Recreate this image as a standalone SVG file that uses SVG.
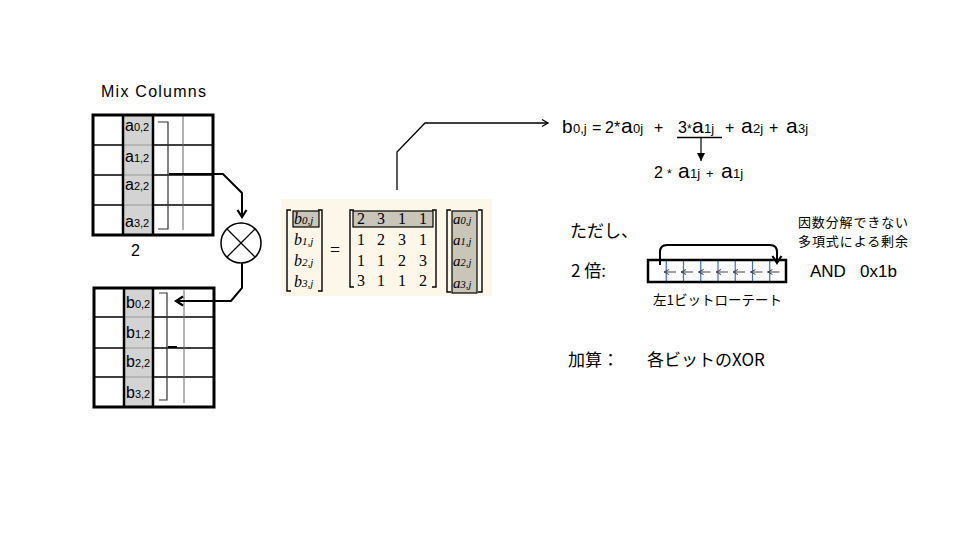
<svg xmlns="http://www.w3.org/2000/svg" width="960" height="540" viewBox="0 0 960 540">
<style>
 .s{font-family:"Liberation Sans",Arial,sans-serif;fill:#000}
 .jp{font-family:"Noto Sans CJK JP",sans-serif;fill:#000}
 .m{font-family:"Liberation Serif",serif;font-style:italic;fill:#000}
 .n{font-family:"Liberation Serif",serif;font-size:16px;fill:#000;text-anchor:middle}
 .outer{stroke:#000;stroke-width:3;fill:none}
 .row{stroke:#000;stroke-width:1.5}
 .rowg{stroke:#999;stroke-width:1}
 .col{stroke:#000;stroke-width:2.5}
 .gl{stroke:#666;stroke-width:1}
 .br{stroke:#333;stroke-width:1.2;fill:none}
 .mb{stroke:#000;stroke-width:1.4;fill:none}
 .hb{fill:#c9c5b9;stroke:#000;stroke-width:1.2}
 .conn{stroke:#000;stroke-width:2;fill:none}
 .blue{stroke:#3b6fd6;stroke-width:1.2}
 .sa{stroke:#444;stroke-width:1;fill:none}
</style>
<defs>
 <marker id="chev" markerWidth="12" markerHeight="12" refX="9" refY="6" orient="auto" markerUnits="userSpaceOnUse">
  <path d="M2,1.5 L9,6 L2,10.5" fill="none" stroke="#000" stroke-width="2.2"/>
 </marker>
 <marker id="chevs" markerWidth="10" markerHeight="10" refX="8" refY="5" orient="auto" markerUnits="userSpaceOnUse">
  <path d="M2,1.5 L8,5 L2,8.5" fill="none" stroke="#000" stroke-width="1.3"/>
 </marker>
 <marker id="tri" markerWidth="10" markerHeight="10" refX="8" refY="5" orient="auto" markerUnits="userSpaceOnUse">
  <path d="M0,1 L8,5 L0,9 Z" fill="#000"/>
 </marker>
 <marker id="tiny" markerWidth="8" markerHeight="8" refX="6" refY="4" orient="auto" markerUnits="userSpaceOnUse">
  <path d="M1,1.5 L6,4 L1,6.5" fill="none" stroke="#444" stroke-width="1"/>
 </marker>
</defs>
<rect width="960" height="540" fill="#fff"/>

<text class="s" x="101" y="97" font-size="16" textLength="105" lengthAdjust="spacing">Mix Columns</text>

<g id="stateA">
 <rect x="123" y="115" width="30" height="120" fill="#d3d3d3"/>
 <line class="row" x1="93" y1="145" x2="123" y2="145"/>
 <line class="row" x1="93" y1="175" x2="123" y2="175"/>
 <line class="row" x1="93" y1="205" x2="123" y2="205"/>
 <line class="row" x1="153" y1="145" x2="213" y2="145"/>
 <line class="row" x1="153" y1="175" x2="213" y2="175"/>
 <line class="row" x1="153" y1="205" x2="213" y2="205"/>
 <line class="rowg" x1="123" y1="145" x2="153" y2="145"/>
 <line class="rowg" x1="123" y1="175" x2="153" y2="175"/>
 <line class="rowg" x1="123" y1="205" x2="153" y2="205"/>
 <line class="col" x1="123" y1="115" x2="123" y2="235"/>
 <line class="col" x1="153" y1="115" x2="153" y2="235"/>
 <line class="gl" x1="183" y1="115" x2="183" y2="230"/>
 <rect class="outer" x="93" y="115" width="120" height="120"/>
 <path class="br" d="M158,122 H168 V229 H158"/>
 <text class="s" x="125" y="131" font-size="16">a<tspan font-size="11">0,2</tspan></text>
 <text class="s" x="125" y="162" font-size="16">a<tspan font-size="11">1,2</tspan></text>
 <text class="s" x="125" y="190" font-size="16">a<tspan font-size="11">2,2</tspan></text>
 <text class="s" x="125" y="227" font-size="16">a<tspan font-size="11">3,2</tspan></text>
 <text class="s" x="131" y="256" font-size="16">2</text>
</g>

<g id="stateB">
 <rect x="124" y="288" width="29" height="119" fill="#d3d3d3"/>
 <line class="row" x1="94" y1="317" x2="124" y2="317"/>
 <line class="row" x1="94" y1="348" x2="124" y2="348"/>
 <line class="row" x1="94" y1="377" x2="124" y2="377"/>
 <line class="row" x1="153" y1="317" x2="214" y2="317"/>
 <line class="row" x1="153" y1="348" x2="214" y2="348"/>
 <line class="row" x1="153" y1="377" x2="214" y2="377"/>
 <line class="rowg" x1="124" y1="317" x2="153" y2="317"/>
 <line class="rowg" x1="124" y1="348" x2="153" y2="348"/>
 <line class="rowg" x1="124" y1="377" x2="153" y2="377"/>
 <line class="col" x1="124" y1="288" x2="124" y2="407"/>
 <line class="col" x1="153" y1="288" x2="153" y2="407"/>
 <line class="gl" x1="184" y1="290" x2="184" y2="403"/>
 <rect class="outer" x="94" y="288" width="120" height="119"/>
 <path class="br" d="M159,293 H167 V400 H159"/>
 <line x1="168" y1="347" x2="177" y2="347" stroke="#000" stroke-width="2"/>
 <text class="s" x="126" y="308" font-size="16">b<tspan font-size="11">0,2</tspan></text>
 <text class="s" x="126" y="338" font-size="16">b<tspan font-size="11">1,2</tspan></text>
 <text class="s" x="126" y="367" font-size="16">b<tspan font-size="11">2,2</tspan></text>
 <text class="s" x="126" y="398" font-size="16">b<tspan font-size="11">3,2</tspan></text>
</g>

<g id="multiply">
 <circle cx="241" cy="243" r="20" fill="#fff" stroke="#000" stroke-width="1.5"/>
 <line x1="227" y1="229" x2="255" y2="257" stroke="#000" stroke-width="1.3"/>
 <line x1="255" y1="229" x2="227" y2="257" stroke="#000" stroke-width="1.3"/>
</g>

<g id="matrix">
 <rect x="281" y="199" width="211" height="97" fill="#fdf7e9"/>
 <path class="mb" d="M291,210 H287 V291 H291"/>
 <path class="mb" d="M318,210 H322 V291 H318"/>
 <rect class="hb" x="293" y="211" width="26" height="16"/>
 <text class="m" x="294" y="224" font-size="16">b<tspan font-size="11">0,j</tspan></text>
 <text class="m" x="294" y="245" font-size="16">b<tspan font-size="11">1,j</tspan></text>
 <text class="m" x="294" y="266" font-size="16">b<tspan font-size="11">2,j</tspan></text>
 <text class="m" x="294" y="287" font-size="16">b<tspan font-size="11">3,j</tspan></text>
 <text x="335" y="256" font-family="Liberation Serif,serif" font-size="18" text-anchor="middle" fill="#000">=</text>
 <path class="mb" d="M354,210 H350 V287 H354"/>
 <path class="mb" d="M432,210 H436 V287 H432"/>
 <rect class="hb" x="353" y="211" width="80" height="16"/>
 <text class="n" x="361" y="224">2</text><text class="n" x="381" y="224">3</text><text class="n" x="402" y="224">1</text><text class="n" x="423" y="224">1</text>
 <text class="n" x="361" y="245">1</text><text class="n" x="381" y="245">2</text><text class="n" x="402" y="245">3</text><text class="n" x="423" y="245">1</text>
 <text class="n" x="361" y="266">1</text><text class="n" x="381" y="266">1</text><text class="n" x="402" y="266">2</text><text class="n" x="423" y="266">3</text>
 <text class="n" x="361" y="286">3</text><text class="n" x="381" y="286">1</text><text class="n" x="402" y="286">1</text><text class="n" x="423" y="286">2</text>
 <path class="mb" d="M451,210 H447 V292 H451"/>
 <path class="mb" d="M478,210 H482 V292 H478"/>
 <rect class="hb" x="452" y="211" width="25" height="82"/>
 <text class="m" x="453" y="224" font-size="15">a<tspan font-size="10.5">0,j</tspan></text>
 <text class="m" x="453" y="245" font-size="15">a<tspan font-size="10.5">1,j</tspan></text>
 <text class="m" x="453" y="266" font-size="15">a<tspan font-size="10.5">2,j</tspan></text>
 <text class="m" x="453" y="288" font-size="15">a<tspan font-size="10.5">3,j</tspan></text>
</g>

<g id="connectors">
 <path class="conn" d="M169,174 H223 L242,193 V217" marker-end="url(#chev)"/>
 <path class="conn" d="M242,263 V288 L231,301 H176" marker-end="url(#chev)"/>
 <path d="M397,190 V152 L425,123 H548" stroke="#000" stroke-width="1.3" fill="none" marker-end="url(#chevs)"/>
 <line x1="701" y1="137" x2="701" y2="161" stroke="#000" stroke-width="1.2" marker-end="url(#tri)"/>
</g>

<g id="equation">
 <text class="s" y="133" font-size="19"><tspan x="562">b</tspan><tspan x="573" font-size="13">0,j</tspan><tspan x="592" font-size="16">=</tspan><tspan x="605" font-size="16">2*</tspan><tspan x="621" font-size="21">a</tspan><tspan x="633" font-size="13">0j</tspan><tspan x="654" font-size="16">+</tspan><tspan x="678" font-size="16">3</tspan><tspan x="687" font-size="12">*</tspan><tspan x="692" font-size="21">a</tspan><tspan x="704" font-size="13">1j</tspan><tspan x="725" font-size="16">+</tspan><tspan x="741" font-size="21">a</tspan><tspan x="753" font-size="13">2j</tspan><tspan x="769" font-size="16">+</tspan><tspan x="786" font-size="21">a</tspan><tspan x="798" font-size="13">3j</tspan></text>
 <line x1="677" y1="137.5" x2="722" y2="137.5" stroke="#000" stroke-width="1.5"/>
 <text class="s" y="178" font-size="16"><tspan x="654">2</tspan><tspan x="667" font-size="12">*</tspan><tspan x="678" font-size="21">a</tspan><tspan x="690" font-size="13">1j</tspan><tspan x="706" font-size="13">+</tspan><tspan x="721" font-size="21">a</tspan><tspan x="733" font-size="13">1j</tspan></text>
</g>

<g id="notes">
 <text class="jp" x="570" y="237" font-size="17">ただし、</text>
 <text class="jp" x="798" y="226.5" font-size="13" textLength="110" lengthAdjust="spacing">因数分解できない</text>
 <text class="jp" x="798" y="245.5" font-size="13" textLength="110" lengthAdjust="spacing">多項式による剰余</text>
 <text class="jp" x="571" y="277" font-size="17">2 倍:</text>
 <text class="s" x="810" y="277" font-size="17">AND</text>
 <text class="s" x="860" y="277" font-size="17">0x1b</text>
 <text class="jp" x="653" y="305" font-size="13.5">左1ビットローテート</text>
 <text class="jp" x="568" y="366" font-size="17">加算：</text>
 <text class="jp" x="647" y="366" font-size="17">各ビットのXOR</text>
</g>

<g id="rotate">
 <line class="blue" x1="666.25" y1="261" x2="666.25" y2="281"/>
 <line class="blue" x1="683.5" y1="261" x2="683.5" y2="281"/>
 <line class="blue" x1="700.75" y1="261" x2="700.75" y2="281"/>
 <line class="blue" x1="718" y1="261" x2="718" y2="281"/>
 <line class="blue" x1="735.25" y1="261" x2="735.25" y2="281"/>
 <line class="blue" x1="752.5" y1="261" x2="752.5" y2="281"/>
 <line class="blue" x1="769.75" y1="261" x2="769.75" y2="281"/>
 <line class="sa" x1="676" y1="272" x2="664" y2="272" marker-end="url(#tiny)"/>
 <line class="sa" x1="693" y1="272" x2="681" y2="272" marker-end="url(#tiny)"/>
 <line class="sa" x1="710.5" y1="272" x2="698.5" y2="272" marker-end="url(#tiny)"/>
 <line class="sa" x1="728" y1="272" x2="716" y2="272" marker-end="url(#tiny)"/>
 <line class="sa" x1="745" y1="272" x2="733" y2="272" marker-end="url(#tiny)"/>
 <line class="sa" x1="762.5" y1="272" x2="750.5" y2="272" marker-end="url(#tiny)"/>
 <line class="sa" x1="779.5" y1="272" x2="767.5" y2="272" marker-end="url(#tiny)"/>
 <rect x="648" y="260" width="138" height="22" fill="none" stroke="#000" stroke-width="2.5"/>
 <path class="conn" d="M660,265 V252 Q660,245 667,245 H770 Q777,245 777,252 V263" marker-end="url(#chev)"/>
</g>
</svg>
